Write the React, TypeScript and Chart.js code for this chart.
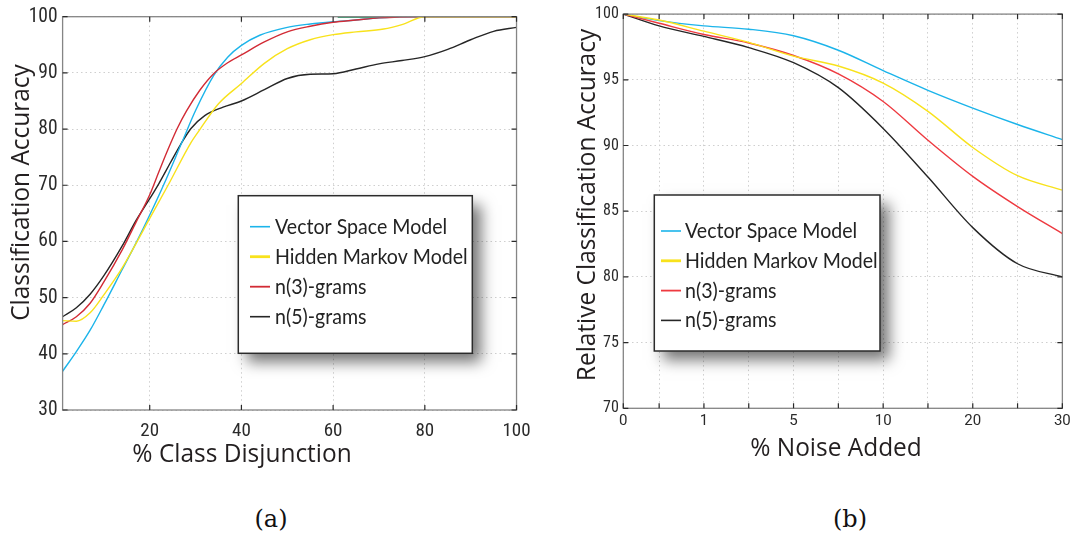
import React, { useEffect, useRef } from 'react';
import { Chart, registerables } from 'chart.js';

Chart.register(...registerables);

// ---------- shared ----------
const seriesNames = ['Vector Space Model', 'Hidden Markov Model', 'n(3)-grams', 'n(5)-grams'];

// ---------- (a) % Class Disjunction ----------
const disjTicks = [20, 40, 60, 80, 100];
const accTicks = [30, 40, 50, 60, 70, 80, 90, 100];

const disjVsmX = [1, 4, 7, 10, 14, 17, 20, 23, 27, 30, 34, 37, 40, 44, 50, 55, 60, 65, 70, 75, 80, 90, 100];
const disjVsmY = [36.9, 40.4, 44.2, 48.7, 55.0, 59.7, 64.7, 70.0, 77.6, 83.3, 89.6, 92.8, 94.9, 96.7, 98.1, 98.7, 99.1, 99.4, 99.8, 100, 100, 100, 100];

const disjHmmX = [1, 4, 7, 10, 14, 17, 20, 24, 29, 31, 35, 40, 45, 50, 55, 60, 65, 71, 75, 80, 90, 100];
const disjHmmY = [45.9, 45.8, 47.3, 50.5, 55.3, 59.6, 64.1, 70.0, 77.6, 80.0, 84.5, 88.1, 91.7, 94.3, 95.9, 96.8, 97.3, 97.8, 98.6, 100, 100, 100];

const disjN3X = [1, 4, 7, 10, 14, 17, 20, 22, 24, 26, 28, 31, 34, 37, 40, 45, 50, 55, 60, 65, 70, 80, 90, 100];
const disjN3Y = [45.2, 46.6, 49.0, 52.8, 58.5, 63.4, 68.3, 72.4, 76.4, 80.1, 83.2, 87.0, 89.9, 91.8, 93.2, 95.5, 97.3, 98.3, 99.0, 99.4, 99.8, 100, 100, 100];

const disjN5X = [1, 4, 7, 10, 14, 17, 20, 22, 24.5, 26.7, 29, 32, 36, 40, 45, 50, 55, 60, 65, 70, 75, 80, 85, 90, 95, 100];
const disjN5Y = [46.6, 48.2, 50.6, 53.9, 59.2, 63.7, 67.6, 70.3, 74.0, 77.2, 80.1, 82.4, 83.9, 85.0, 87.0, 89.0, 89.75, 89.85, 90.7, 91.6, 92.2, 92.9, 94.2, 95.9, 97.4, 98.1];

// short unlabelled trace visible along the top edge
const disjExtraX = [61, 71];
const disjExtraY = [100, 100];

// ---------- (b) % Noise Added ----------
const noiseLevels = ['0', '1', '5', '10', '20', '30'];
const noiseLevelPos = [0.2, 2, 4, 6, 8, 10];
const noiseTickPos = [0.2, 1, 2, 3, 4, 5, 6, 7, 8, 9, 10];
const noisePointPos = [0.2, 1, 2, 3, 4, 5, 6, 7, 8, 9, 10];
const relAccTicks = [70, 75, 80, 85, 90, 95, 100];

const noiseVsm = [100, 99.5, 99.1, 98.85, 98.35, 97.25, 95.7, 94.2, 92.85, 91.6, 90.45];
const noiseHmm = [100, 99.55, 98.7, 97.85, 96.8, 96.05, 94.75, 92.6, 89.85, 87.7, 86.6];
const noiseN3 = [100, 99.3, 98.45, 97.8, 96.85, 95.45, 93.35, 90.4, 87.65, 85.35, 83.3];
const noiseN5 = [100, 99.1, 98.3, 97.45, 96.3, 94.4, 91.3, 87.6, 83.75, 81.0, 80.0];

// ---------- styles ----------
const CONDENSED = "'Roboto Condensed', Roboto, 'Liberation Sans', sans-serif";
const REGULAR = "Roboto, 'Liberation Sans', sans-serif";
const TITLE_FONT = "26px 'Open Sans', sans-serif";
const TITLE_SCALE = 0.94;
const LEGEND_FONT = "22px Lato, 'Open Sans', sans-serif";
const LEGEND_SCALE = 0.89;

const colorsA = ['#1cb4ea', '#f8e21c', '#d22b35', '#262626'];
const colorsB = ['#1cb4ea', '#f8e21c', '#ee3a40', '#262626'];
const legendLineWidths = [1.6, 2.8, 1.8, 1.6];
const drawOrder = [2, 0, 1, 3];

const zip = (xs: number[], ys: number[]) => xs.map((x, i) => ({ x, y: ys[i] }));

const lineBase = {
  pointRadius: 0,
  borderWidth: 1.4,
  cubicInterpolationMode: 'monotone' as const,
  fill: false,
};

type LegendCfg = {
  left: number; top: number; right: number; bottom: number;
  firstRow: number; rowStep: number; lineStart: number; lineLen: number; textStart: number;
};
type DecorCfg = {
  tickLen: number;
  legend: LegendCfg;
  xTitle: { text: string; x: number; y: number };
  yTitle: { text: string; x: number; y: number };
};

const makeDecor = (cfg: DecorCfg) => ({
  id: 'decor',
  afterDatasetsDraw(chart: any) {
    const { ctx, chartArea: a } = chart;
    const xs = chart.scales.x;
    const ys = chart.scales.y;
    ctx.save();
    ctx.strokeStyle = '#858585';
    ctx.lineWidth = 1.3;
    ctx.strokeRect(a.left, a.top, a.right - a.left, a.bottom - a.top);
    ctx.strokeStyle = '#2a2a2a';
    ctx.lineWidth = 1.2;
    ctx.beginPath();
    const L = cfg.tickLen;
    for (const t of xs.ticks) {
      const p = xs.getPixelForValue(t.value);
      ctx.moveTo(p, a.bottom); ctx.lineTo(p, a.bottom - L);
      ctx.moveTo(p, a.top); ctx.lineTo(p, a.top + L);
    }
    for (const t of ys.ticks) {
      const p = ys.getPixelForValue(t.value);
      ctx.moveTo(a.left, p); ctx.lineTo(a.left + L, p);
      ctx.moveTo(a.right, p); ctx.lineTo(a.right - L, p);
    }
    ctx.stroke();

    const g = cfg.legend;
    ctx.save();
    ctx.shadowColor = 'rgba(0,0,0,0.55)';
    ctx.shadowBlur = 14;
    ctx.shadowOffsetX = 9;
    ctx.shadowOffsetY = 9;
    ctx.fillStyle = '#ffffff';
    ctx.fillRect(g.left, g.top, g.right - g.left, g.bottom - g.top);
    ctx.restore();
    ctx.strokeStyle = '#2b2b2b';
    ctx.lineWidth = 1.5;
    ctx.strokeRect(g.left, g.top, g.right - g.left, g.bottom - g.top);

    ctx.font = LEGEND_FONT;
    ctx.textAlign = 'left';
    ctx.textBaseline = 'middle';
    let row = 0;
    chart.data.datasets.forEach((ds: any, i: number) => {
      if (!ds.label) return;
      const y = g.firstRow + row * g.rowStep;
      ctx.strokeStyle = ds.borderColor;
      ctx.lineWidth = legendLineWidths[i] || 1.6;
      ctx.beginPath();
      ctx.moveTo(g.lineStart, y);
      ctx.lineTo(g.lineStart + g.lineLen, y);
      ctx.stroke();
      ctx.fillStyle = '#232323';
      ctx.save();
      ctx.translate(g.textStart, y);
      ctx.scale(LEGEND_SCALE, 1);
      ctx.fillText(ds.label, 0, 0);
      ctx.restore();
      row++;
    });

    ctx.font = TITLE_FONT;
    ctx.fillStyle = '#231f20';
    ctx.textAlign = 'center';
    ctx.textBaseline = 'alphabetic';
    ctx.save();
    ctx.translate(cfg.xTitle.x, cfg.xTitle.y);
    ctx.scale(TITLE_SCALE, 1);
    ctx.fillText(cfg.xTitle.text, 0, 0);
    ctx.restore();
    ctx.save();
    ctx.translate(cfg.yTitle.x, cfg.yTitle.y);
    ctx.rotate(-Math.PI / 2);
    ctx.scale(TITLE_SCALE, 1);
    ctx.fillText(cfg.yTitle.text, 0, 0);
    ctx.restore();

    ctx.restore();
  },
});

const gridOpts = { color: '#cfcfcf', lineWidth: 1, drawTicks: false };
const borderOpts = { display: false, dash: [1.5, 3] };

function ChartA() {
  const ref = useRef<HTMLCanvasElement>(null);
  useEffect(() => {
    const xsList = [disjVsmX, disjHmmX, disjN3X, disjN5X];
    const ysList = [disjVsmY, disjHmmY, disjN3Y, disjN5Y];
    const datasets: any[] = seriesNames.map((name, i) => ({
      ...lineBase,
      label: name,
      data: zip(xsList[i], ysList[i]),
      borderColor: colorsA[i],
      order: drawOrder[i],
    }));
    datasets.push({ ...lineBase, label: '', data: zip(disjExtraX, disjExtraY), borderColor: '#3aa374', borderWidth: 2.6, order: 4 });
    const chart = new Chart(ref.current!, {
      type: 'line',
      data: { datasets },
      options: {
        responsive: false,
        animation: false,
        devicePixelRatio: 1,
        layout: { padding: { left: 0, right: 20.7, top: 12.7, bottom: 0 } },
        plugins: { legend: { display: false }, tooltip: { enabled: false } },
        scales: {
          x: {
            type: 'linear', min: 1, max: 100,
            afterBuildTicks: (s: any) => { s.ticks = disjTicks.map((v) => ({ value: v })); },
            afterFit: (s: any) => { s.height = 60; },
            grid: gridOpts, border: borderOpts,
            ticks: { font: { family: CONDENSED, size: 19 }, color: '#2a2a2a', padding: 9.4, maxRotation: 0, autoSkip: false, callback: (v: any) => String(v) },
          },
          y: {
            type: 'linear', min: 30, max: 100,
            afterBuildTicks: (s: any) => { s.ticks = accTicks.map((v) => ({ value: v })); },
            afterFit: (s: any) => { s.width = 62.6; },
            grid: gridOpts, border: borderOpts,
            ticks: { font: { family: CONDENSED, size: 19.5 }, color: '#2a2a2a', padding: 5, autoSkip: false, callback: (v: any) => String(v) },
          },
        },
      } as any,
      plugins: [makeDecor({
        tickLen: 5,
        legend: { left: 238.3, top: 195.7, right: 472.3, bottom: 353.3, firstRow: 226.7, rowStep: 30, lineStart: 250, lineLen: 20, textStart: 275 },
        xTitle: { text: '% Class Disjunction', x: 242, y: 462.3 },
        yTitle: { text: 'Classification Accuracy', x: 29.3, y: 192.5 },
      })],
    });
    return () => chart.destroy();
  }, []);
  return <canvas ref={ref} width={540} height={470} style={{ position: 'absolute', left: 0, top: 0 }} />;
}

function ChartB() {
  const ref = useRef<HTMLCanvasElement>(null);
  useEffect(() => {
    const ysList = [noiseVsm, noiseHmm, noiseN3, noiseN5];
    const datasets: any[] = seriesNames.map((name, i) => ({
      ...lineBase,
      label: name,
      data: zip(noisePointPos, ysList[i]),
      borderColor: colorsB[i],
      order: drawOrder[i],
    }));
    const chart = new Chart(ref.current!, {
      type: 'line',
      data: { datasets },
      options: {
        responsive: false,
        animation: false,
        devicePixelRatio: 1,
        layout: { padding: { left: 0, right: 12.3, top: 12.7, bottom: 0 } },
        plugins: { legend: { display: false }, tooltip: { enabled: false } },
        scales: {
          x: {
            type: 'linear', min: 0.2, max: 10,
            afterBuildTicks: (s: any) => { s.ticks = noiseTickPos.map((v) => ({ value: v })); },
            afterFit: (s: any) => { s.height = 61.7; },
            grid: gridOpts, border: borderOpts,
            ticks: {
              font: { family: REGULAR, size: 15 }, color: '#2a2a2a', padding: 4.2, maxRotation: 0, autoSkip: false,
              callback: (v: any) => {
                const k = noiseLevelPos.findIndex((p) => Math.abs(p - v) < 1e-6);
                return k >= 0 ? noiseLevels[k] : '';
              },
            },
          },
          y: {
            type: 'linear', min: 70, max: 100,
            afterBuildTicks: (s: any) => { s.ticks = relAccTicks.map((v) => ({ value: v })); },
            afterFit: (s: any) => { s.width = 83.3; },
            grid: gridOpts, border: borderOpts,
            ticks: { font: { family: CONDENSED, size: 16 }, color: '#2a2a2a', padding: 4.5, autoSkip: false, callback: (v: any) => String(v) },
          },
        },
      } as any,
      plugins: [makeDecor({
        tickLen: 5,
        legend: { left: 114.3, top: 195, right: 340, bottom: 351, firstRow: 231, rowStep: 29.8, lineStart: 121, lineLen: 20, textStart: 145 },
        xTitle: { text: '% Noise Added', x: 296, y: 456 },
        yTitle: { text: 'Relative Classification Accuracy', x: 54.6, y: 205 },
      })],
    });
    return () => chart.destroy();
  }, []);
  return <canvas ref={ref} width={535} height={470} style={{ position: 'absolute', left: 540, top: 0 }} />;
}

const captionStyle: React.CSSProperties = {
  position: 'absolute',
  width: 120,
  top: 507,
  textAlign: 'center',
  fontFamily: "'DejaVu Serif', 'Liberation Serif', serif",
  fontSize: 24,
  lineHeight: '24px',
  color: '#111',
};

export default function App() {
  return (
    <div style={{ position: 'absolute', left: 0, top: 0, width: 1075, height: 543, background: '#ffffff', overflow: 'hidden' }}>
      <ChartA />
      <ChartB />
      <div style={{ ...captionStyle, left: 271 - 60 }}>(a)</div>
      <div style={{ ...captionStyle, left: 850 - 60 }}>(b)</div>
    </div>
  );
}
